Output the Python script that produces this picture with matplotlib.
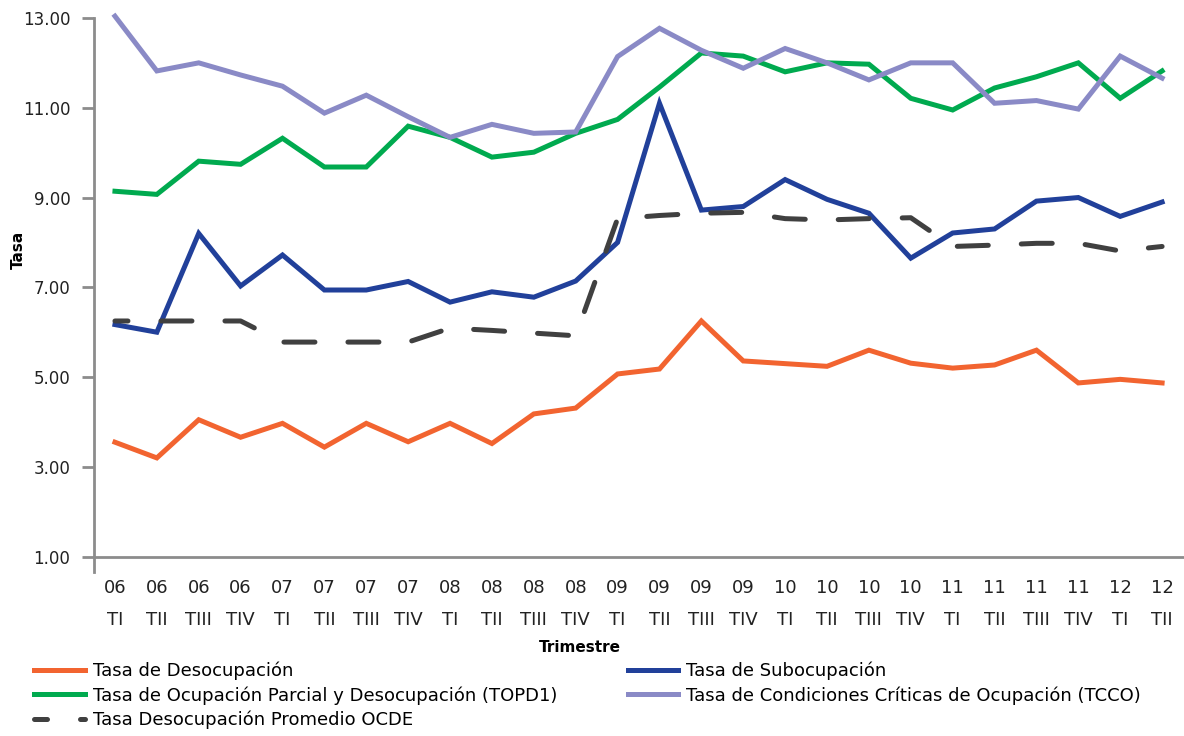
import matplotlib
matplotlib.use("Agg")
from matplotlib import pyplot as plt
from matplotlib.ticker import FormatStrFormatter

# trimestres 2006 TI .. 2012 TII
anios = ["06", "06", "06", "06", "07", "07", "07", "07", "08", "08", "08", "08",
         "09", "09", "09", "09", "10", "10", "10", "10", "11", "11", "11", "11", "12", "12"]
trimestres = ["TI", "TII", "TIII", "TIV"] * 6 + ["TI", "TII"]

desocupacion = [3.55, 3.2, 4.05, 3.66, 3.97, 3.44, 3.97, 3.56, 3.97, 3.52, 4.18, 4.31,
                5.07, 5.18, 6.25, 5.36, 5.3, 5.24, 5.6, 5.31, 5.2, 5.27, 5.6, 4.87, 4.95, 4.87]
subocupacion = [6.17, 6.0, 8.2, 7.03, 7.72, 6.94, 6.94, 7.13, 6.67, 6.9, 6.78, 7.14,
                8.0, 11.1, 8.72, 8.8, 9.4, 8.96, 8.65, 7.65, 8.21, 8.3, 8.92, 9.0, 8.58, 8.9]
topd1 = [9.14, 9.07, 9.81, 9.74, 10.32, 9.68, 9.68, 10.59, 10.34, 9.9, 10.01, 10.43,
         10.74, 11.46, 12.22, 12.15, 11.8, 12.0, 11.97, 11.21, 10.95, 11.44, 11.69, 12.0, 11.21, 11.82]
tcco = [13.04, 11.82, 12.0, 11.73, 11.48, 10.88, 11.28, 10.8, 10.34, 10.63, 10.43, 10.46,
        12.14, 12.77, 12.28, 11.88, 12.32, 12.0, 11.62, 12.0, 12.0, 11.1, 11.16, 10.97, 12.15, 11.66]
ocde = [6.25, 6.25, 6.25, 6.25, 5.78, 5.78, 5.78, 5.78, 6.09, 6.04, 5.98, 5.92,
        8.53, 8.6, 8.65, 8.67, 8.53, 8.5, 8.53, 8.55, 7.91, 7.94, 7.98, 7.98, 7.81, 7.91]

x = list(range(len(anios)))

plt.rcParams['font.family'] = ['DejaVu Sans']

fig = plt.figure(figsize=(11.84, 7.36), dpi=100)
ax = fig.add_axes([0.0794, 0.2223, 0.9198, 0.7777])

lw = 3.6
l1, = ax.plot(x, desocupacion, color="#F26430", lw=lw, solid_joinstyle="miter", label="Tasa de Desocupación")
l2, = ax.plot(x, subocupacion, color="#21409A", lw=lw, solid_joinstyle="miter", label="Tasa de Subocupación")
l3, = ax.plot(x, topd1, color="#00AA4F", lw=lw, solid_joinstyle="miter",
              label="Tasa de Ocupación Parcial y Desocupación (TOPD1)")
l4, = ax.plot(x, tcco, color="#8A8AC6", lw=lw, solid_joinstyle="miter",
              label="Tasa de Condiciones Críticas de Ocupación (TCCO)")
l5, = ax.plot(x, ocde, color="#404040", lw=lw, linestyle=(3.6, (6.2, 6.6)), dash_capstyle="round",
              label="Tasa Desocupación Promedio OCDE")

ax.set_xlim(-0.5, 25.5)
ax.set_ylim(0.65, 13.4)
ax.set_yticks([1, 3, 5, 7, 9, 11, 13])
ax.yaxis.set_major_formatter(FormatStrFormatter("%.2f"))
ax.set_xticks(x)
ax.set_xticklabels([])

# two-row labels: year on top, quarter below
tr = ax.get_xaxis_transform()
for xi, a, t in zip(x, anios, trimestres):
    ax.text(xi, -0.028, a, transform=tr, ha="center", va="center", fontsize=13, color="#222222")
    ax.text(xi, -0.083, t, transform=tr, ha="center", va="center", fontsize=13, color="#222222")

for s in ["top", "right"]:
    ax.spines[s].set_visible(False)
ax.spines["bottom"].set_position(("data", 1))
ax.spines["left"].set_bounds(0.65, 13)
for s in ["left", "bottom"]:
    ax.spines[s].set_color("#8C8C8C")
    ax.spines[s].set_linewidth(2)

ax.tick_params(axis="y", length=9, width=2, color="#8C8C8C", labelsize=12, labelcolor="#222222", pad=8)
ax.tick_params(axis="x", length=0)

ax.set_ylabel("Tasa", fontsize=11, fontweight="bold")
ax.yaxis.set_label_coords(-0.063, 0.563)
fig.text(0.49, 0.12, "Trimestre", ha="center", va="center", fontsize=11, fontweight="bold")

fig.legend(handles=[l1, l3, l5, l2, l4], loc="upper left", bbox_to_anchor=(0.029, 0.101),
           ncol=2, frameon=False, fontsize=13, handlelength=2.8, handletextpad=0.45,
           columnspacing=3.9, labelspacing=0.34, borderaxespad=0, borderpad=0)

fig.savefig("out.png", dpi=100)
